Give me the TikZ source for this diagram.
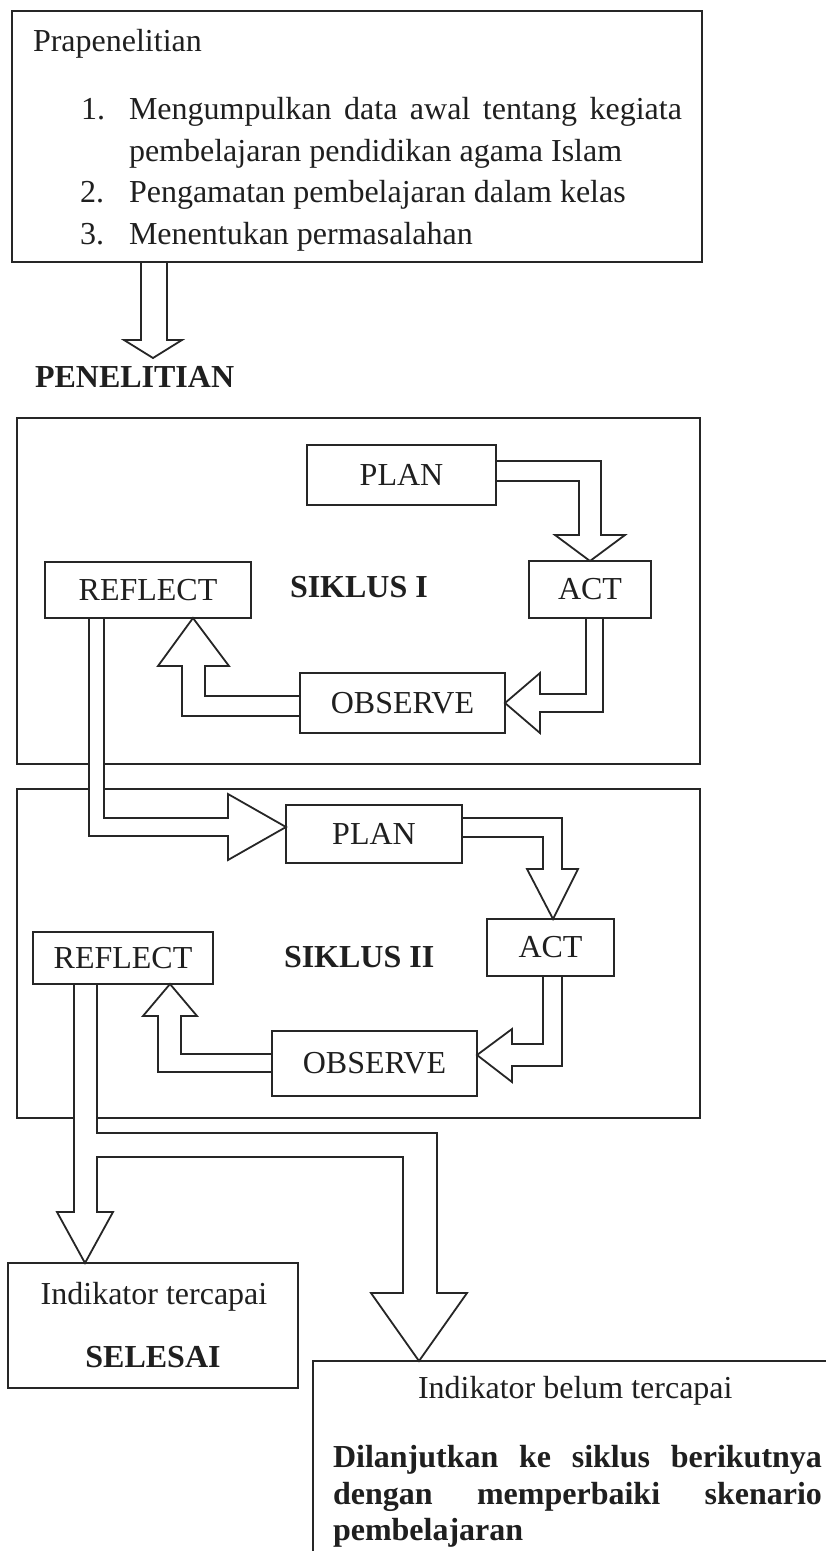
\documentclass[tikz,border=0pt]{standalone}
\usepackage{fontspec}
\setmainfont{Liberation Serif}
\usetikzlibrary{calc}
\pgfdeclarelayer{bg}
\pgfdeclarelayer{fg}
\pgfsetlayers{bg,main,fg}
\tikzset{
  ln/.style={line width=1.8pt, draw=black!85},
  box/.style={ln, rectangle, inner sep=0pt, outer sep=0pt, text=black!88, font=\fontsize{32}{40}\selectfont},
  txt/.style={inner sep=0pt, outer sep=0pt, text=black!88, font=\fontsize{32}{40}\selectfont},
  blk/.style={ln, fill=white, line join=miter},
}
\begin{document}
\begin{tikzpicture}[x=1pt,y=-1pt]
\useasboundingbox (0,0) rectangle (826,1551);
\begin{pgfonlayer}{bg}
  \fill[white] (0,0) rectangle (826,1551);
  \node[box, minimum width=683pt, minimum height=346pt] (cyc1) at (358.5,591) {};
  \node[box, minimum width=683pt, minimum height=329pt] (cyc2) at (358.5,953.5) {};
\end{pgfonlayer}

\begin{pgfonlayer}{fg}
  % top box
  \node[box, minimum width=690pt, minimum height=251pt] (pra) at (357,136.5) {};
  \node[txt, anchor=base west] (praT) at (33,51) {Prapenelitian};
  \node[txt, anchor=base west] (n1) at (81,119) {1.};
  \node[txt, anchor=base west] (i1) at (129,119) {\hbox to 553pt{Mengumpulkan\hfill data\hfill awal\hfill tentang\hfill kegiata}};
  \node[txt, anchor=base west] (i1b) at (129,161) {pembelajaran pendidikan agama Islam};
  \node[txt, anchor=base west] (n2) at (80,202) {2.};
  \node[txt, anchor=base west] (i2) at (129,202) {Pengamatan pembelajaran dalam kelas};
  \node[txt, anchor=base west] (n3) at (80,244) {3.};
  \node[txt, anchor=base west] (i3) at (129,244) {Menentukan permasalahan};
  \node[txt, anchor=base west] (pen) at (35,387) {\bfseries PENELITIAN};

  % cycle I
  \node[box, minimum width=189pt, minimum height=60pt] (plan1) at (401.5,475) {PLAN};
  \node[box, minimum width=122pt, minimum height=57pt] (act1) at (590,589.5) {ACT};
  \node[box, minimum width=206pt, minimum height=56pt] (refl1) at (148,590) {REFLECT};
  \node[box, minimum width=205pt, minimum height=60pt] (obs1) at (402.5,703) {OBSERVE};
  \node[txt, anchor=base west] (sik1) at (290,597) {\bfseries SIKLUS I};

  % cycle II
  \node[box, minimum width=176pt, minimum height=58pt] (plan2) at (374,834) {PLAN};
  \node[box, minimum width=127pt, minimum height=57pt] (act2) at (550.5,947.5) {ACT};
  \node[box, minimum width=180pt, minimum height=52pt] (refl2) at (123,958) {REFLECT};
  \node[box, minimum width=205pt, minimum height=65pt] (obs2) at (374.5,1063.5) {OBSERVE};
  \node[txt, anchor=base west] (sik2) at (284,967) {\bfseries SIKLUS II};

  % results
  \node[box, minimum width=290pt, minimum height=125pt] (sel) at (153,1325.5) {};
  \node[txt, anchor=base] (selT1) at (154,1304) {Indikator tercapai};
  \node[txt, anchor=base] (selT2) at (153,1367) {\bfseries SELESAI};

  \node[box, minimum width=517pt, minimum height=200pt] (big) at (571.5,1461) {};
  \node[txt, anchor=base west] (bel) at (418,1398) {Indikator belum tercapai};
  \node[txt, anchor=base west] (d1) at (333,1467) {\bfseries\hbox to 489pt{Dilanjutkan\hfill ke\hfill siklus\hfill berikutnya}};
  \node[txt, anchor=base west] (d2) at (333,1504) {\bfseries\hbox to 489pt{dengan\hfill memperbaiki\hfill skenario}};
  \node[txt, anchor=base west] (d3) at (333,1540) {\bfseries pembelajaran};
\end{pgfonlayer}

% block arrows
\filldraw[blk] (pra.south -| 141,0) -- (141,340) -- (124,340) -- (153,358) -- (182,340) -- (167,340) -- (pra.south -| 167,0);

\filldraw[blk] (plan1.east |- 0,461) -- (601,461) -- (601,535) -- (625,535) -- (act1.north) -- (555,535) -- (579,535) -- (579,481) -- (plan1.east |- 0,481);

\filldraw[blk] (act1.south -| 586,0) -- (586,694) -- (540,694) -- (540,673) -- (obs1.east) -- (540,733) -- (540,712) -- (603,712) -- (act1.south -| 603,0);

\filldraw[blk] (obs1.west |- 0,696) -- (205,696) -- (205,666) -- (229,666) -- (refl1.south -| 193,0) -- (158,666) -- (182,666) -- (182,716) -- (obs1.west |- 0,716);

\filldraw[blk] (refl1.south -| 89,0) -- (89,836) -- (228,836) -- (228,860) -- (plan2.west |- 0,827) -- (228,794) -- (228,818) -- (104,818) -- (refl1.south -| 104,0);

\filldraw[blk] (plan2.east |- 0,818) -- (562,818) -- (562,869) -- (578,869) -- (act2.north -| 553,0) -- (527,869) -- (543,869) -- (543,837) -- (plan2.east |- 0,837);

\filldraw[blk] (act2.south -| 543,0) -- (543,1044) -- (512,1044) -- (512,1029) -- (obs2.east |- 0,1055) -- (512,1082) -- (512,1066) -- (562,1066) -- (act2.south -| 562,0);

\filldraw[blk] (obs2.west |- 0,1054) -- (181,1054) -- (181,1016) -- (197,1016) -- (refl2.south -| 170,0) -- (143,1016) -- (158,1016) -- (158,1072) -- (obs2.west |- 0,1072);

\filldraw[blk] (refl2.south -| 74,0) -- (74,1212) -- (57,1212) -- (sel.north -| 85,0) -- (113,1212) -- (97,1212) -- (97,1157) -- (403,1157) -- (403,1293) -- (371,1293) -- (big.north -| 419,0) -- (467,1293) -- (437,1293) -- (437,1133) -- (97,1133) -- (refl2.south -| 97,0);
\end{tikzpicture}
\end{document}
